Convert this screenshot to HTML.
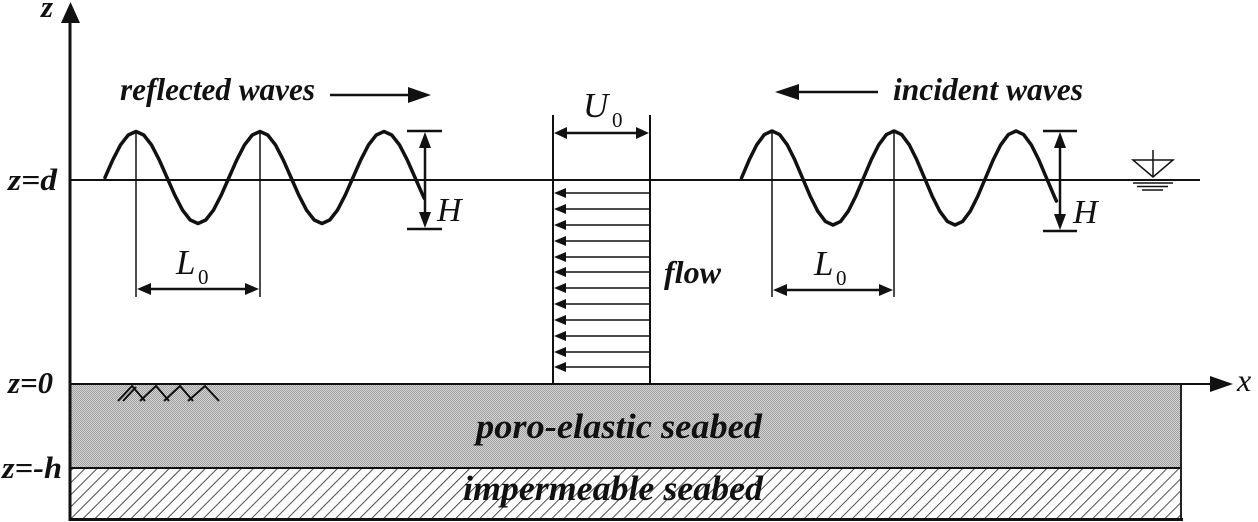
<!DOCTYPE html>
<html><head><meta charset="utf-8"><style>
html,body{margin:0;padding:0;background:#fff;}
svg{display:block;}
.b{font-family:"Liberation Serif",serif;font-weight:bold;font-style:italic;fill:#111;}
.i{font-family:"Liberation Serif",serif;font-style:italic;fill:#111;}
.r{font-family:"Liberation Serif",serif;fill:#111;}
</style></head><body>
<svg width="1258" height="522" viewBox="0 0 1258 522" xmlns="http://www.w3.org/2000/svg">
<defs>
<pattern id="hatch" patternUnits="userSpaceOnUse" width="8.5" height="8.5" patternTransform="rotate(45)">
<rect width="8.5" height="8.5" fill="#fff"/>
<line x1="0" y1="0" x2="0" y2="8.5" stroke="#222" stroke-width="1.6"/>
</pattern>
<pattern id="dots" patternUnits="userSpaceOnUse" width="2" height="2">
<rect width="2" height="2" fill="#d4d4d4"/>
<rect width="1" height="1" fill="#a0a0a0"/>
<rect x="1" y="1" width="1" height="1" fill="#a0a0a0"/>
</pattern>
</defs>

<!-- seabed layers -->
<rect x="71" y="385" width="1110" height="83" fill="url(#dots)"/>
<rect x="71" y="469" width="1110" height="50" fill="url(#hatch)"/>
<line x1="70" y1="468" x2="1182" y2="468" stroke="#111" stroke-width="2"/>
<line x1="1181" y1="384" x2="1181" y2="520" stroke="#222" stroke-width="2"/>
<line x1="69" y1="519.5" x2="1183" y2="519.5" stroke="#111" stroke-width="3"/>

<!-- x axis -->
<line x1="70" y1="384" x2="1212" y2="384" stroke="#111" stroke-width="2"/>
<polygon points="1210,376 1233,384 1210,392" fill="#111"/>
<text class="i" x="1237" y="391" font-size="32">x</text>

<!-- z axis -->
<line x1="70" y1="18" x2="70" y2="521" stroke="#111" stroke-width="3"/>
<polygon points="61,23 70.5,2 80,23" fill="#111"/>
<text class="b" x="41" y="17" font-size="31">z</text>

<!-- axis labels -->
<text class="b" x="8" y="190" font-size="31" textLength="49" lengthAdjust="spacingAndGlyphs">z=d</text>
<text class="b" x="8" y="393" font-size="31" textLength="45" lengthAdjust="spacingAndGlyphs">z=0</text>
<text class="b" x="2" y="478" font-size="31" textLength="60" lengthAdjust="spacingAndGlyphs">z=-h</text>

<!-- water line -->
<line x1="70" y1="180" x2="1200" y2="180" stroke="#111" stroke-width="2"/>

<!-- left wave -->
<polyline fill="none" stroke="#111" stroke-width="3.5" stroke-linejoin="round" stroke-linecap="round" points="105,177.5 112.75,159.9 120.5,144.97 128.25,135 136,131.5 143.75,135 151.5,144.97 159.25,159.9 167,177.5 174.75,195.1 182.5,210.03 190.25,220 198,223.5 205.75,220 213.5,210.03 221.25,195.1 229,177.5 236.75,159.9 244.5,144.97 252.25,135 260,131.5 267.75,135 275.5,144.97 283.25,159.9 291,177.5 298.75,195.1 306.5,210.03 314.25,220 322,223.5 329.75,220 337.5,210.03 345.25,195.1 353,177.5 360.75,159.9 368.5,144.97 376.25,135 384,131.5 391.75,135 399.5,144.97 407.25,159.9 415,177.5 422.75,195.1 424.3,198.4"/>
<line x1="136" y1="131" x2="136" y2="297" stroke="#111" stroke-width="1.5"/>
<line x1="260" y1="131" x2="260" y2="297" stroke="#111" stroke-width="1.5"/>
<line x1="146" y1="289" x2="250" y2="289" stroke="#111" stroke-width="2.5"/>
<polygon points="137,289 151,283 151,295" fill="#111"/>
<polygon points="259,289 245,283 245,295" fill="#111"/>
<text class="i" x="176" y="274" font-size="35">L</text>
<text class="r" x="198" y="284" font-size="21">0</text>

<!-- left H -->
<line x1="407" y1="131" x2="442" y2="131" stroke="#111" stroke-width="2.5"/>
<line x1="407" y1="229" x2="442" y2="229" stroke="#111" stroke-width="2.5"/>
<line x1="425" y1="140" x2="425" y2="220" stroke="#111" stroke-width="2.5"/>
<polygon points="425,132 419,148 431,148" fill="#111"/>
<polygon points="425,228 419,212 431,212" fill="#111"/>
<text class="i" x="437" y="221" font-size="34">H</text>

<!-- reflected waves -->
<text class="b" x="120" y="100" font-size="32" textLength="195" lengthAdjust="spacingAndGlyphs">reflected waves</text>
<line x1="330" y1="95" x2="412" y2="95" stroke="#111" stroke-width="2.5"/>
<polygon points="408,87 431,95 408,103" fill="#111"/>

<!-- flow block -->
<line x1="553" y1="115" x2="553" y2="384" stroke="#111" stroke-width="2"/>
<line x1="650" y1="115" x2="650" y2="384" stroke="#111" stroke-width="2"/>
<line x1="562" y1="133" x2="641" y2="133" stroke="#111" stroke-width="2.5"/>
<polygon points="554,133 567,127 567,139" fill="#111"/>
<polygon points="649,133 636,127 636,139" fill="#111"/>
<text class="i" x="583" y="117" font-size="35">U</text>
<text class="r" x="612" y="127" font-size="21">0</text>
<g stroke="#111" stroke-width="1.6">
<line x1="562" y1="193" x2="650" y2="193"/>
<line x1="562" y1="209" x2="650" y2="209"/>
<line x1="562" y1="225" x2="650" y2="225"/>
<line x1="562" y1="241" x2="650" y2="241"/>
<line x1="562" y1="257" x2="650" y2="257"/>
<line x1="562" y1="272" x2="650" y2="272"/>
<line x1="562" y1="288" x2="650" y2="288"/>
<line x1="562" y1="304" x2="650" y2="304"/>
<line x1="562" y1="320" x2="650" y2="320"/>
<line x1="562" y1="336" x2="650" y2="336"/>
<line x1="562" y1="352" x2="650" y2="352"/>
<line x1="562" y1="367" x2="650" y2="367"/>
</g>
<g fill="#111">
<polygon points="554,193 566,188 566,198"/>
<polygon points="554,209 566,204 566,214"/>
<polygon points="554,225 566,220 566,230"/>
<polygon points="554,241 566,236 566,246"/>
<polygon points="554,257 566,252 566,262"/>
<polygon points="554,272 566,267 566,277"/>
<polygon points="554,288 566,283 566,293"/>
<polygon points="554,304 566,299 566,309"/>
<polygon points="554,320 566,315 566,325"/>
<polygon points="554,336 566,331 566,341"/>
<polygon points="554,352 566,347 566,357"/>
<polygon points="554,367 566,362 566,372"/>
</g>
<text class="b" x="664" y="283" font-size="32" textLength="57" lengthAdjust="spacingAndGlyphs">flow</text>

<!-- incident waves -->
<polygon points="775,92 799,84 799,100" fill="#111"/>
<line x1="795" y1="92" x2="878" y2="92" stroke="#111" stroke-width="2.5"/>
<text class="b" x="893" y="100" font-size="32" textLength="190" lengthAdjust="spacingAndGlyphs">incident waves</text>

<!-- right wave -->
<polyline fill="none" stroke="#111" stroke-width="3.5" stroke-linejoin="round" stroke-linecap="round" points="741.5,178 749.125,160.01 756.75,144.77 764.375,134.58 772,131 779.625,134.58 787.25,144.77 794.875,160.01 802.5,178 810.125,195.99 817.75,211.23 825.375,221.42 833,225 840.625,221.42 848.25,211.23 855.875,195.99 863.5,178 871.125,160.01 878.75,144.77 886.375,134.58 894,131 901.625,134.58 909.25,144.77 916.875,160.01 924.5,178 932.125,195.99 939.75,211.23 947.375,221.42 955,225 962.625,221.42 970.25,211.23 977.875,195.99 985.5,178 993.125,160.01 1000.75,144.77 1008.375,134.58 1016,131 1023.625,134.58 1031.25,144.77 1038.875,160.01 1046.5,178 1054.125,195.99 1056.4,201"/>
<line x1="772" y1="131" x2="772" y2="297" stroke="#111" stroke-width="1.5"/>
<line x1="894" y1="131" x2="894" y2="297" stroke="#111" stroke-width="1.5"/>
<line x1="782" y1="290" x2="884" y2="290" stroke="#111" stroke-width="2.5"/>
<polygon points="773,290 787,284 787,296" fill="#111"/>
<polygon points="893,290 879,284 879,296" fill="#111"/>
<text class="i" x="814" y="275" font-size="35">L</text>
<text class="r" x="836" y="285" font-size="21">0</text>

<!-- right H -->
<line x1="1043" y1="131" x2="1077" y2="131" stroke="#111" stroke-width="2.5"/>
<line x1="1043" y1="231" x2="1077" y2="231" stroke="#111" stroke-width="2.5"/>
<line x1="1060" y1="140" x2="1060" y2="222" stroke="#111" stroke-width="2.5"/>
<polygon points="1060,132 1054,148 1066,148" fill="#111"/>
<polygon points="1060,230 1054,214 1066,214" fill="#111"/>
<text class="i" x="1073" y="223" font-size="34">H</text>

<!-- water level symbol -->
<line x1="1153" y1="150" x2="1153" y2="177" stroke="#111" stroke-width="1.5"/>
<polygon points="1133,160 1173,160 1153,177" fill="none" stroke="#111" stroke-width="1.5"/>
<line x1="1133" y1="183" x2="1173" y2="183" stroke="#111" stroke-width="1.5"/>
<line x1="1137" y1="186.5" x2="1168" y2="186.5" stroke="#111" stroke-width="1.5"/>
<line x1="1142" y1="190" x2="1163" y2="190" stroke="#111" stroke-width="1.5"/>

<!-- seabed surface symbol -->
<g stroke="#111" stroke-width="2" fill="none">
<path d="M118,401 L132,386 L145,401"/>
<path d="M123,401 L136,387"/>
<path d="M140,401 L156,386 L169,401"/>
<path d="M164,401 L180,386 L193,401"/>
<path d="M188,401 L205,386 L219,401"/>
</g>

<!-- seabed labels -->
<text class="b" x="476" y="438" font-size="35" textLength="286" lengthAdjust="spacingAndGlyphs">poro-elastic seabed</text>
<text class="b" x="463" y="500" font-size="35" textLength="300" lengthAdjust="spacingAndGlyphs">impermeable seabed</text>
</svg>
</body></html>
